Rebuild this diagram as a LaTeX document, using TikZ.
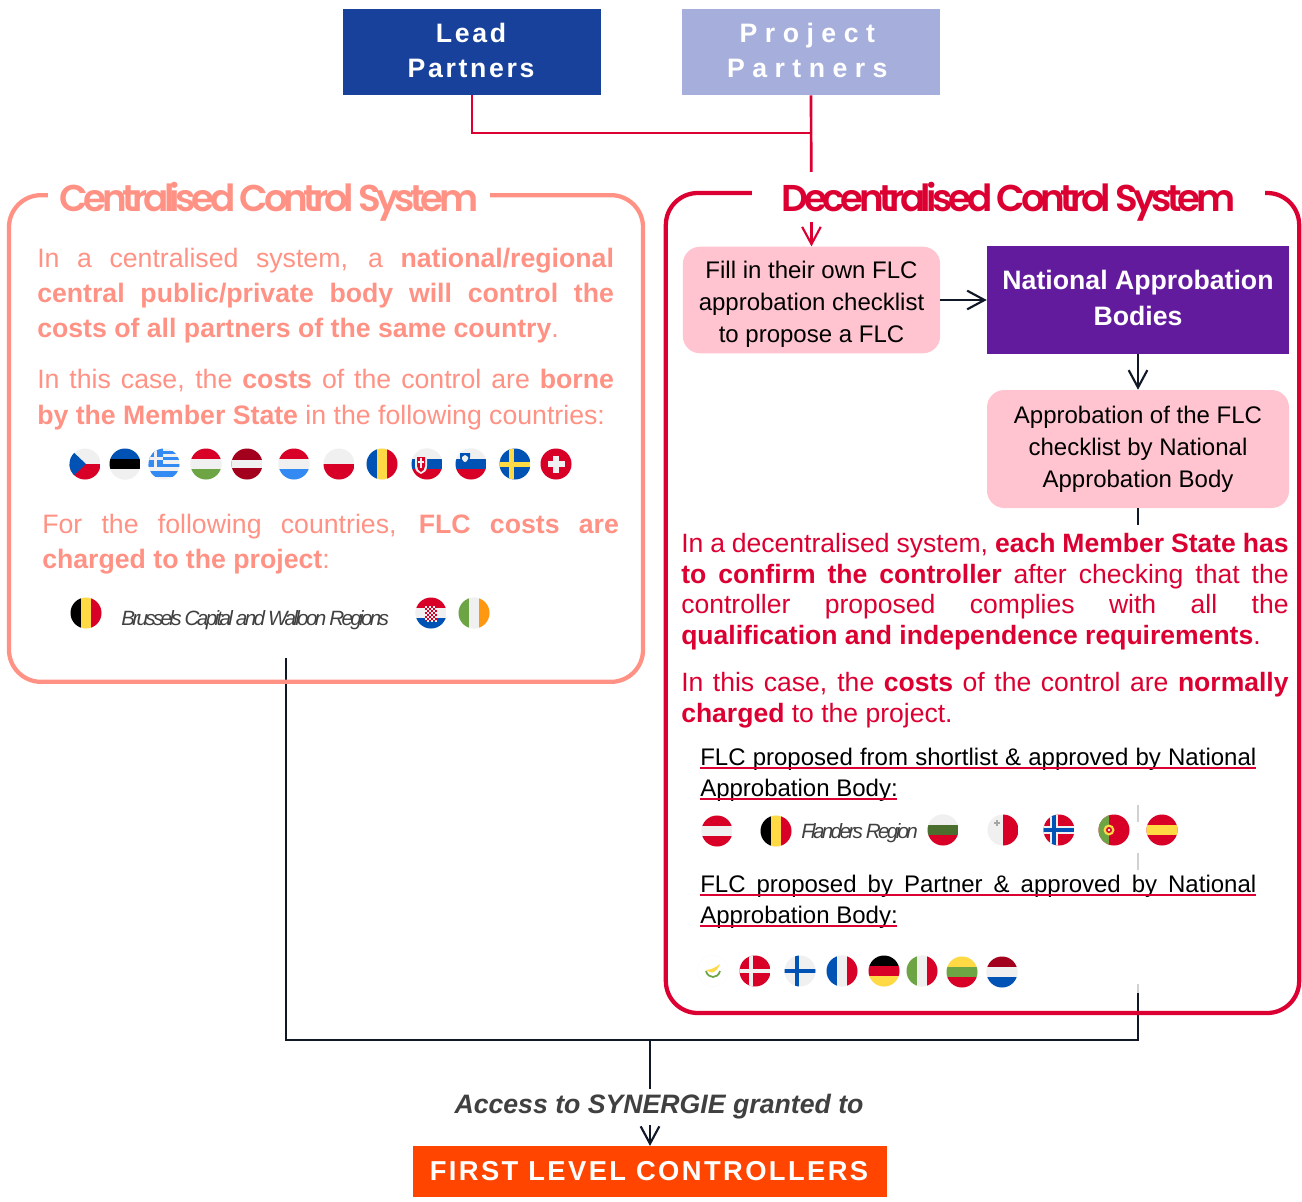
\documentclass[tikz,border=0pt]{standalone}
\usepackage{fontspec}
\usetikzlibrary{arrows.meta}
\setmainfont{Liberation Sans}
\newfontfamily\titlefont[LetterSpace=-12]{Poppins SemiBold}
\newfontfamily\tightfont[LetterSpace=-13]{Liberation Sans}
\newfontfamily\leadfont[LetterSpace=10]{Liberation Sans}
\newfontfamily\projfont[LetterSpace=28]{Liberation Sans}
\newfontfamily\flcfont[LetterSpace=8.8]{Liberation Sans}
\definecolor{cred}{HTML}{DC0032}
\definecolor{csalmon}{HTML}{FF9284}
\definecolor{cpink}{HTML}{FFC4D0}
\definecolor{cpurple}{HTML}{631B9E}
\definecolor{cnavy}{HTML}{17419A}
\definecolor{clav}{HTML}{A6AFDB}
\definecolor{corange}{HTML}{FF4500}
\definecolor{cink}{HTML}{101828}
\definecolor{ctxt}{HTML}{404040}
\definecolor{fr}{HTML}{D80027}
\definecolor{fb}{HTML}{0052B4}
\definecolor{fw}{HTML}{F0F0F0}
\definecolor{fy}{HTML}{FFDA44}
\definecolor{fg}{HTML}{6DA544}
\definecolor{fm}{HTML}{A2001D}
\definecolor{fl}{HTML}{338AF3}
\definecolor{fo}{HTML}{FF9811}
\definecolor{fd}{HTML}{496E2D}
\newcommand{\txtsize}[2]{\fontsize{#1}{#2}\selectfont}
\newcommand{\flagat}[3]{\begin{scope}[shift={(#1,#2)}]\clip (0,0) circle (15.5);\fill[fw] (-16,-16) rectangle (16,16);#3\end{scope}}
\newcommand{\hs}[3]{\fill[#1] (-16,-16) rectangle (16,-5);\fill[#2] (-16,-5) rectangle (16,5);\fill[#3] (-16,5) rectangle (16,16);}
\newcommand{\vs}[3]{\fill[#1] (-16,-16) rectangle (-5,16);\fill[#2] (-5,-16) rectangle (5,16);\fill[#3] (5,-16) rectangle (16,16);}
\newcommand{\titletext}[1]{\raisebox{-10.5pt}[0pt][0pt]{#1}}
\tikzset{
 x=0.75pt,y=-0.75pt,
 para/.style={anchor=north west,inner sep=0pt,align=justify},
 leftpara/.style={para,text=csalmon,text width=432.5pt,font=\txtsize{20}{26.4}},
 rightpara/.style={para,text=cred,text width=455.5pt,font=\txtsize{19.9}{22.9}},
 flcpara/.style={para,text=black,text width=417pt,font=\txtsize{18}{23.2}},
 solidbox/.style={inner sep=0pt,minimum width=193.5pt,minimum height=64.5pt,align=center,text=white,font=\bfseries\txtsize{20}{26.25}},
 pinkbox/.style={fill=cpink,rounded corners=13pt,inner sep=0pt,align=center,text=black,font=\txtsize{18}{24}},
 frame/.style={draw=#1,line width=3.2pt,rounded corners=24pt,fill=none,inner sep=0pt},
 cover/.style={fill=white,inner sep=0pt},
 systitle/.style={cover,minimum height=37.5pt,font=\titlefont\fontsize{28}{30}\selectfont},
 vhead/.style={-{Straight Barb[length=13pt,width=14pt,line width=1.6pt]}},
 redline/.style={draw=cred,line width=2pt},
 inkline/.style={draw=cink,line width=2pt},
 region/.style={inner sep=0pt,text=ctxt,font=\tightfont\itshape\fontsize{15.5}{18}\selectfont},
 faint/.style={draw=black!18,line width=2pt},
 flcline/.style={draw=cred,line width=1.5pt}
}
\begin{document}
\begin{tikzpicture}
\useasboundingbox (0,0) rectangle (1302,1202);
\fill[white] (0,0) rectangle (1302,1202);

% top boxes
\node[solidbox,fill=cnavy] (lead) at (472,52) {\leadfont\bfseries Lead\hspace*{1.5pt}\\\leadfont\bfseries Partners\hspace*{1.5pt}\rule[-2.5pt]{0pt}{1pt}};
\node[solidbox,fill=clav] (proj) at (811,52) {\projfont\bfseries Project\hspace*{5.5pt}\\\projfont\bfseries Partners\hspace*{5.5pt}\rule[-2.5pt]{0pt}{1pt}};
\coordinate (join) at (811,133);

% process boxes
\node[pinkbox,minimum width=193pt,minimum height=80pt] (fillbox) at (811.5,300) {\rule{0pt}{19pt}Fill in their own FLC\\approbation checklist\\to propose a FLC};
\node[fill=cpurple,inner sep=0pt,minimum width=226.5pt,minimum height=81pt,align=center,text=white,font=\bfseries\txtsize{20}{27}] (nab) at (1138,300) {National Approbation\\Bodies\rule[-3pt]{0pt}{1pt}};
\node[pinkbox,minimum width=226.5pt,minimum height=88.5pt] (appr) at (1138,449) {Approbation of the FLC\\checklist by National\\Approbation Body};
\node[fill=corange,inner sep=0pt,minimum width=355.5pt,minimum height=38pt,text=white,font=\flcfont\bfseries\txtsize{20.5}{24}] (flc) at (650,1171.5) {\raisebox{0.6pt}{FIRST LEVEL CONTROLLERS}\hspace*{1.5pt}};

% connectors running behind the panels
\coordinate (cstart) at (286,658);
\coordinate (busL) at (286,1040);
\coordinate (busM) at (650,1040);
\coordinate (busR) at (1138,1040);
\draw[redline] (lead.south) |- (join);
\draw[redline,vhead] (proj.south) -- (fillbox.north);
\draw[inkline,vhead] (fillbox.east) -- (nab.west);
\draw[inkline,vhead] (nab.south) -- (appr.north);
\draw[inkline] (cstart) -- (busL) -- (busM);
\draw[inkline] (appr.south) -- (busR) -- (busM);
\draw[inkline,vhead] (busM) -- (flc.north);

% white panel that hides the connector behind the text
\node[cover,minimum width=450pt,minimum height=351pt] (dpanel) at (982,759) {};
\draw[faint] (1138,805) -- (1138,822);
\draw[faint] (1138,853) -- (1138,870);
\draw[faint] (1138,984) -- (1138,993);

% frames
\node[frame=csalmon,minimum width=475.5pt,minimum height=365pt] (cframe) at (326,438.5) {};
\node[frame=cred,minimum width=475pt,minimum height=615pt] (dframe) at (982.5,603) {};
\node[systitle,text=csalmon,minimum width=331.5pt] (ctitle) at (269,197) {\titletext{Centralised Control System}};
\node[systitle,text=cred,minimum width=385pt] (dtitle) at (1008.5,197) {\titletext{Decentralised Control System}};

% centralised text
\node[leftpara] (c1) at (37,248) {In a centralised system, a \textbf{national/regional}\linebreak \textbf{central public/private body will control the}\linebreak \textbf{costs of all partners of the same country}.};
\node[leftpara,font=\txtsize{20}{27}] (c2) at (37,369) {In this case, the \textbf{costs} of the control are \textbf{borne}\linebreak \textbf{by the Member State} in the following countries:};
\node[leftpara] (c3) at (42,514) {For the following countries, \textbf{FLC costs are}\linebreak \textbf{charged to the project}:};

% decentralised text
\node[rightpara] (d1) at (681,533) {In a decentralised system, \textbf{each Member State has}\linebreak \textbf{to confirm the controller} after checking that the\linebreak controller proposed complies with all the\linebreak \textbf{qualification and independence requirements}.};
\node[rightpara] (d2) at (681,672) {In this case, the \textbf{costs} of the control are \textbf{normally}\linebreak \textbf{charged} to the project.};
\node[flcpara] (f1) at (700,748) {FLC proposed from shortlist \& approved by National\linebreak Approbation Body:};
\node[flcpara] (f2) at (700,875) {FLC proposed by Partner \& approved by National\linebreak Approbation Body:};
\draw[flcline] (700,768) -- (1256,768);
\draw[flcline] (700,799) -- (897,799);
\draw[flcline] (700,895) -- (1256,895);
\draw[flcline] (700,926) -- (897,926);

% access label
\node[cover,text=ctxt,font=\bfseries\itshape\txtsize{20}{24},minimum width=330pt,minimum height=27pt] (access) at (659,1107) {Access to SYNERGIE granted to};

% region labels
\node[region,anchor=west] (brw) at (121,620) {Brussels Capital and Walloon Regions};
\node[region,anchor=west] (fla) at (801,833) {Flanders Region};

% flags, first row
\flagat{85}{464}{\fill[fr] (-16,0) rectangle (16,16);\fill[fb] (-16,-16) -- (1,0) -- (-16,16) -- cycle;}
\flagat{125}{464}{\hs{fb}{black}{fw}}
\flagat{164}{464}{\foreach \yy in {-13.5,-7,0,7}{\fill[fl] (-16,\yy) rectangle (16,\yy+3.4);}\fill[fl] (-16,9) rectangle (16,13);\fill[fl] (-16,-16) rectangle (-1,3);\fill[fw] (-9.8,-16) rectangle (-6.8,3);\fill[fw] (-16,-7.5) rectangle (-1,-4.5);}
\flagat{206}{464}{\hs{fr}{fw}{fg}}
\flagat{247}{464}{\fill[fm] (-16,-16) rectangle (16,16);\fill[fw] (-16,-4) rectangle (16,4);}
\flagat{294}{464}{\hs{fr}{fw}{fl}}
\flagat{339}{464}{\fill[fr] (-16,0) rectangle (16,16);}
\flagat{382}{464}{\vs{fb}{fy}{fr}}
\flagat{427}{464}{\hs{fw}{fb}{fr}\fill[fw] (-12,-9) -- (0,-9) -- (0,2) .. controls (0,7) and (-3,9) .. (-6,10) .. controls (-9,9) and (-12,7) .. (-12,2) -- cycle;\fill[fr] (-10,-7) -- (-2,-7) -- (-2,2) .. controls (-2,5) and (-4,7) .. (-6,8) .. controls (-8,7) and (-10,5) .. (-10,2) -- cycle;\fill[fw] (-6.8,-6) rectangle (-5.2,4);\fill[fw] (-9,-3) rectangle (-3,-1.5);}
\flagat{471}{464}{\hs{fw}{fb}{fr}\fill[fb] (-11,-11) -- (-1,-11) -- (-1,-7) .. controls (-1,-3) and (-4,-1) .. (-6,0) .. controls (-8,-1) and (-11,-3) .. (-11,-7) -- cycle;\fill[fw] (-9,-7) -- (-6,-9) -- (-3,-7) -- (-3,-5) .. controls (-4,-3) and (-5,-2) .. (-6,-2) .. controls (-7,-2) and (-8,-3) .. (-9,-5) -- cycle;}
\flagat{515}{464}{\fill[fb] (-16,-16) rectangle (16,16);\fill[fy] (-16,-2.5) rectangle (16,2.5);\fill[fy] (-6.5,-16) rectangle (-1.5,16);}
\flagat{556}{464}{\fill[fr] (-16,-16) rectangle (16,16);\fill[fw] (-2.7,-8.5) rectangle (2.7,8.5);\fill[fw] (-8.5,-2.7) rectangle (8.5,2.7);}

% flags, second row
\flagat{86}{613}{\vs{black}{fy}{fr}}
\flagat{431}{613}{\hs{fr}{fw}{fb}\fill[fr] (-6,-7) rectangle (6,8);\foreach \xx in {-6,-2,2}{\foreach \yy in {-7,-3,1,5}{\fill[fw] (\xx,\yy) rectangle (\xx+2,\yy+2);\fill[fw] (\xx+2,\yy+2) rectangle (\xx+4,\yy+4);}}}
\flagat{474}{613}{\vs{fg}{fw}{fo}}

% flags, third row
\flagat{717}{831}{\hs{fr}{fw}{fr}}
\flagat{776}{831}{\vs{black}{fy}{fr}}
\flagat{943}{830}{\hs{fw}{fd}{fr}}
\flagat{1003}{830}{\fill[fr] (0,-16) rectangle (16,16);\fill[black!35] (-7,-10.5) rectangle (-5,-4.5);\fill[black!35] (-9,-8.5) rectangle (-3,-6.5);}
\flagat{1059}{830}{\fill[fr] (-16,-16) rectangle (16,16);\fill[fw] (-9,-16) rectangle (-1,16);\fill[fw] (-16,-4) rectangle (16,4);\fill[fb] (-7,-16) rectangle (-3,16);\fill[fb] (-16,-2) rectangle (16,2);}
\flagat{1114}{830}{\fill[fr] (-16,-16) rectangle (16,16);\fill[fg] (-16,-16) rectangle (-5,16);\fill[fy] (-5,0) circle (5.5);\fill[fr] (-5,0) circle (3);\fill[fw] (-5,0) circle (1.3);}
\flagat{1162}{830}{\fill[fr] (-16,-16) rectangle (16,16);\fill[fy] (-16,-5) rectangle (16,5);}

% flags, fourth row
\flagat{713}{971}{\fill[white] (-16,-16) rectangle (16,16);\fill[fy] (-7,-1) .. controls (-3,-1) and (2,-3) .. (7,-7) .. controls (5,-2) and (2,1) .. (-1,1.5) .. controls (-3,1.5) and (-5,0) .. (-7,-1) -- cycle;\draw[fg,line width=1.3pt] (-7,0) .. controls (-6,4) and (-3,6) .. (0,6) .. controls (3,6) and (6,4) .. (7,0);}
\flagat{755}{971}{\fill[fr] (-16,-16) rectangle (16,16);\fill[fw] (-6,-16) rectangle (-2,16);\fill[fw] (-16,-2) rectangle (16,2);}
\flagat{800}{971}{\fill[fb] (-5,-16) rectangle (-1,16);\fill[fb] (-16,-2) rectangle (16,2);}
\flagat{842}{971}{\vs{fb}{fw}{fr}}
\flagat{884}{971}{\hs{black}{fr}{fy}}
\flagat{922}{971}{\vs{fg}{fw}{fr}}
\flagat{962}{972}{\hs{fy}{fg}{fr}}
\flagat{1002}{972}{\hs{fm}{fw}{fb}}
\end{tikzpicture}
\end{document}
